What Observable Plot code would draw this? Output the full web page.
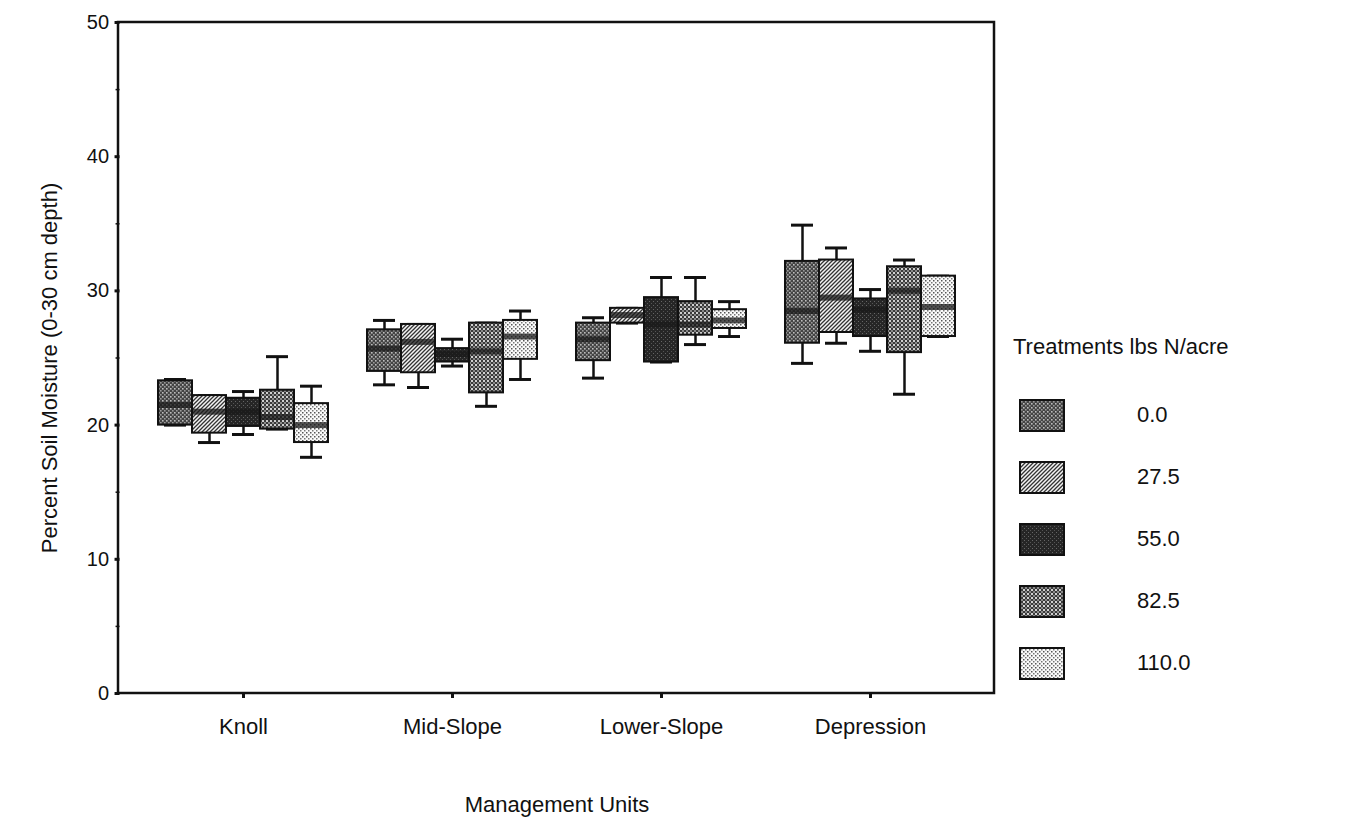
<!DOCTYPE html>
<html>
<head>
<meta charset="utf-8">
<script src="https://cdn.jsdelivr.net/npm/d3@7"></script>
<script src="https://cdn.jsdelivr.net/npm/@observablehq/plot@0.6"></script>
<style>
  body { margin: 0; background: #fff; font-family: "Liberation Sans", Arial, sans-serif; }
  #wrap { position: relative; width: 1349px; height: 831px; }
  #chart { position: absolute; left: 0; top: 0; }
  #ylabel { position: absolute; left: 50px; top: 368px; transform: translate(-50%, -50%) rotate(-90deg);
            white-space: nowrap; font-size: 22px; color: #111; }
  #legend { position: absolute; left: 1013px; top: 334px; font-size: 22px; color: #111; }
  #legend .title { white-space: nowrap; height: 50px; }
  #legend .row { display: flex; align-items: center; height: 62px; }
  #legend svg { margin-left: 6px; }
  #legend .lab { margin-left: 72px; }
</style>
</head>
<body>
<svg width="0" height="0" style="position:absolute">
  <defs>
    <pattern id="p0" width="4" height="4" patternUnits="userSpaceOnUse">
      <rect width="4" height="4" fill="#444"/>
      <rect x="0" y="0" width="1.6" height="1.6" fill="#bdbdbd"/>
      <rect x="2" y="2" width="1.6" height="1.6" fill="#9a9a9a"/>
    </pattern>
    <pattern id="p1" width="4" height="4" patternUnits="userSpaceOnUse">
      <rect width="4" height="4" fill="#f4f4f4"/>
      <path d="M-1,1 L1,-1 M0,4 L4,0 M3,5 L5,3" stroke="#333" stroke-width="1.3"/>
    </pattern>
    <pattern id="p2" width="4" height="4" patternUnits="userSpaceOnUse">
      <rect width="4" height="4" fill="#262626"/>
      <rect x="1" y="1" width="1" height="1" fill="#666"/>
      <rect x="3" y="3" width="1" height="1" fill="#555"/>
    </pattern>
    <pattern id="p3" width="4" height="4" patternUnits="userSpaceOnUse">
      <rect width="4" height="4" fill="#3a3a3a"/>
      <rect x="0" y="0" width="2" height="2" fill="#d0d0d0"/>
      <rect x="2" y="2" width="2" height="2" fill="#8a8a8a"/>
    </pattern>
    <pattern id="p4" width="4" height="4" patternUnits="userSpaceOnUse">
      <rect width="4" height="4" fill="#fafafa"/>
      <rect x="0" y="0" width="1.5" height="1.5" fill="#555"/>
      <rect x="2" y="2" width="1.5" height="1.5" fill="#777"/>
    </pattern>
  </defs>
</svg>
<div id="wrap">
  <div id="chart"></div>
  <div id="ylabel">Percent Soil Moisture (0-30 cm depth)</div>
  <div id="legend"></div>
</div>
<script>
// ---- data ----
const units = ["Knoll", "Mid-Slope", "Lower-Slope", "Depression"];
const treatments = ["0.0", "27.5", "55.0", "82.5", "110.0"];
const patternFills = ["url(#p0)", "url(#p1)", "url(#p2)", "url(#p3)", "url(#p4)"];

// rows = management units, columns = treatments
const lowWhisker = [
  [20.0, 18.7, 19.3, 19.7, 17.6],
  [23.0, 22.8, 24.4, 21.4, 23.4],
  [23.5, 27.6, 24.7, 26.0, 26.6],
  [24.6, 26.1, 25.5, 22.3, 26.6]
];
const q1 = [
  [20.0, 19.4, 19.9, 19.7, 18.7],
  [24.0, 23.9, 24.7, 22.4, 24.9],
  [24.8, 27.6, 24.7, 26.7, 27.2],
  [26.1, 26.9, 26.6, 25.4, 26.6]
];
const median = [
  [21.5, 21.0, 21.0, 20.6, 20.0],
  [25.7, 26.2, 25.3, 25.5, 26.6],
  [26.4, 28.2, 27.5, 27.5, 27.8],
  [28.5, 29.5, 28.6, 30.0, 28.8]
];
const q3 = [
  [23.3, 22.2, 22.0, 22.6, 21.6],
  [27.1, 27.5, 25.7, 27.6, 27.8],
  [27.6, 28.7, 29.5, 29.2, 28.6],
  [32.2, 32.3, 29.4, 31.8, 31.1]
];
const highWhisker = [
  [23.4, 22.2, 22.5, 25.1, 22.9],
  [27.8, 27.5, 26.4, 27.6, 28.5],
  [28.0, 28.7, 31.0, 31.0, 29.2],
  [34.9, 33.2, 30.1, 32.3, 31.1]
];
const yMajorTicks = [0, 10, 20, 30, 40, 50];
const yMinorTicks = [5, 15, 25, 35, 45];

const rows = units.flatMap((u, i) => treatments.map((t, j) => ({
  unit: u, treatment: t,
  lo: lowWhisker[i][j], q1: q1[i][j], med: median[i][j], q3: q3[i][j], hi: highWhisker[i][j]
})));

const W = 1010, H = 831, mL = 118, mR = 16, mT = 22, mB = 138;
const padIn = 0.168, padOut = 0.174;
// shift of the first facet from the frame's left edge (d3 band layout), to put the y axis on the frame
const step = (W - mL - mR) / (units.length - padIn + 2 * padOut);
const facetShift = ((W - mL - mR) - step * (units.length - padIn)) / 2;

const plot = Plot.plot({
  width: W, height: H,
  marginLeft: mL, marginRight: mR, marginTop: mT, marginBottom: mB,
  style: { fontFamily: "Liberation Sans, Arial, sans-serif", color: "#111", background: "#fff" },
  fx: { domain: units, paddingInner: padIn, paddingOuter: padOut },
  x: { domain: treatments, padding: 0, axis: null },
  y: { domain: [0, 50] },
  color: { type: "ordinal", domain: treatments, range: patternFills },
  marks: [
    Plot.axisY({ ticks: yMajorTicks, tickSize: 5, tickPadding: 6, fontSize: 20, strokeWidth: 3,
      label: null, dx: -facetShift }),
    Plot.axisY({ ticks: yMinorTicks, tickSize: 4, strokeWidth: 1.5, tickFormat: () => "", label: null, dx: -facetShift }),
    Plot.axisFx({ anchor: "bottom", tickSize: 5, tickPadding: 20, fontSize: 22, strokeWidth: 3,
      label: "Management Units", labelAnchor: "center", labelOffset: 118 }),
    Plot.ruleX(rows, { fx: "unit", x: "treatment", y1: "q3", y2: "hi", stroke: "#111", strokeWidth: 2.5 }),
    Plot.ruleX(rows, { fx: "unit", x: "treatment", y1: "lo", y2: "q1", stroke: "#111", strokeWidth: 2.5 }),
    Plot.tickY(rows, { fx: "unit", x: "treatment", y: "hi", stroke: "#111", strokeWidth: 3, insetLeft: 6, insetRight: 6 }),
    Plot.tickY(rows, { fx: "unit", x: "treatment", y: "lo", stroke: "#111", strokeWidth: 3, insetLeft: 6, insetRight: 6 }),
    Plot.barY(rows, { fx: "unit", x: "treatment", y1: "q1", y2: "q3", fill: "treatment", stroke: "#111", strokeWidth: 2 }),
    Plot.tickY(rows, { fx: "unit", x: "treatment", y: "med", stroke: "#1a1a1a", strokeWidth: 6, strokeOpacity: 0.75, insetLeft: 1, insetRight: 1 })
  ]
});

// one frame around the whole plotting area
d3.select(plot).append("rect")
  .attr("x", mL).attr("y", mT)
  .attr("width", W - mL - mR).attr("height", H - mT - mB)
  .attr("fill", "none").attr("stroke", "#111").attr("stroke-width", 2.5);
d3.select(plot).selectAll('[aria-label="fx-axis label"] text').style("font-size", "22px");

document.getElementById("chart").appendChild(plot);

// legend
const legend = d3.select("#legend");
legend.append("div").attr("class", "title").text("Treatments lbs N/acre");
treatments.forEach((t, i) => {
  const row = legend.append("div").attr("class", "row");
  const s = row.append("svg").attr("width", 46).attr("height", 33);
  s.append("rect").attr("x", 1).attr("y", 1).attr("width", 44).attr("height", 31)
    .attr("fill", patternFills[i]).attr("stroke", "#111").attr("stroke-width", 2);
  row.append("div").attr("class", "lab").text(t);
});
</script>
</body>
</html>
